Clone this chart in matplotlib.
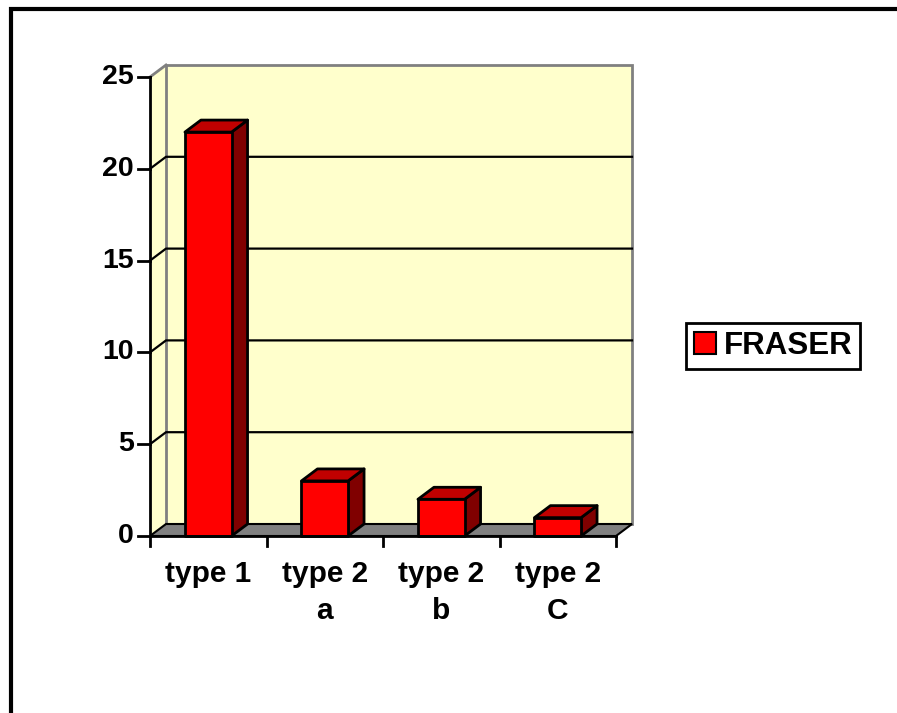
import matplotlib.pyplot as plt
from matplotlib.patches import Polygon, Rectangle, Patch

categories = ['type 1', 'type 2\na', 'type 2\nb', 'type 2\nC']
fraser = [22, 3, 2, 1]
y_ticks = [0, 5, 10, 15, 20, 25]
series_name = 'FRASER'

plt.rcParams['font.family'] = ['Liberation Sans', 'DejaVu Sans']
plt.rcParams['font.weight'] = 'bold'

fig = plt.figure(figsize=(8.97, 7.13), dpi=100)
fig.patches.append(Rectangle((10.5 / 897, -0.1), 2.0, 1.1 - 9.5 / 713, transform=fig.transFigure,
                             facecolor='white', edgecolor='black', linewidth=3, zorder=-10))

# front plane of the chart: x 0..4 (categories), y 0..25
ax = fig.add_axes([150 / 897, (713 - 536) / 713, 466 / 897, 459 / 713])
ymax = y_ticks[-1]
n = len(categories)
ax.set_xlim(0, n)
ax.set_ylim(0, ymax)
ax.axis('off')

px_x = n / 466
px_y = ymax / 459
dx, dy = 16 * px_x, 12 * px_y

# walls
ax.add_patch(Polygon([(0, 0), (dx, dy), (dx, ymax + dy), (0, ymax)], closed=True,
                     facecolor='#FFFFCC', edgecolor='none', clip_on=False, zorder=1))
ax.add_patch(Rectangle((dx, dy), n, ymax, facecolor='#FFFFCC', edgecolor='#808080',
                       linewidth=2, clip_on=False, zorder=1))
ax.plot([0, dx], [ymax, ymax + dy], color='#808080', lw=2, clip_on=False, zorder=2)

for v in y_ticks[1:-1]:
    ax.plot([0, dx, n + dx], [v, v + dy, v + dy], color='black', lw=1.6, clip_on=False, zorder=2)

# floor
ax.add_patch(Polygon([(0, 0), (n, 0), (n + dx, dy), (dx, dy)], closed=True,
                     facecolor='#808080', edgecolor='black', linewidth=1.5,
                     clip_on=False, zorder=2))

# bars
w = 0.4
for i, v in enumerate(fraser):
    x0 = i + 0.5 - w / 2
    ax.add_patch(Polygon([(x0 + w, 0), (x0 + w + dx, dy), (x0 + w + dx, v + dy), (x0 + w, v)],
                         closed=True, facecolor='#800000', edgecolor='black', linewidth=2,
                         joinstyle='round', clip_on=False, zorder=3))
    ax.add_patch(Polygon([(x0, v), (x0 + w, v), (x0 + w + dx, v + dy), (x0 + dx, v + dy)],
                         closed=True, facecolor='#C00000', edgecolor='black', linewidth=2,
                         joinstyle='round', clip_on=False, zorder=3))
    ax.add_patch(Rectangle((x0, 0), w, v, facecolor='#FF0000', edgecolor='black',
                           linewidth=2, joinstyle='round', clip_on=False, zorder=4))

# axes lines and ticks
ax.plot([0, 0], [0, ymax], color='black', lw=2, clip_on=False, zorder=5)
ax.plot([0, n], [0, 0], color='black', lw=2, clip_on=False, zorder=5)
for v in y_ticks:
    ax.plot([-12 * px_x, 0], [v, v], color='black', lw=2, clip_on=False, zorder=5)
    ax.text(-16 * px_x, v, str(v), ha='right', va='center', fontsize=20.5,
            fontweight='bold')
for k in range(n + 1):
    ax.plot([k, k], [0, -10 * px_y], color='black', lw=2, clip_on=False, zorder=5)

for i, lab in enumerate(categories):
    ax.text(i + 0.5, -24 * px_y, lab, ha='center', va='top', fontsize=21.5,
            fontweight='bold', linespacing=1.4)

handle = Patch(facecolor='#FF0000', edgecolor='black', linewidth=1.5)
fig.legend([handle], [series_name], loc='center left',
           bbox_to_anchor=(686 / 897, (713 - 346) / 713), fontsize=22.5,
           frameon=True, fancybox=False, framealpha=1, edgecolor='black',
           handlelength=0.7, handleheight=0.7, handletextpad=0.25,
           borderpad=0.25, borderaxespad=0)
fig.legends[0].get_frame().set_linewidth(2)

fig.savefig('out.png', dpi=100)
